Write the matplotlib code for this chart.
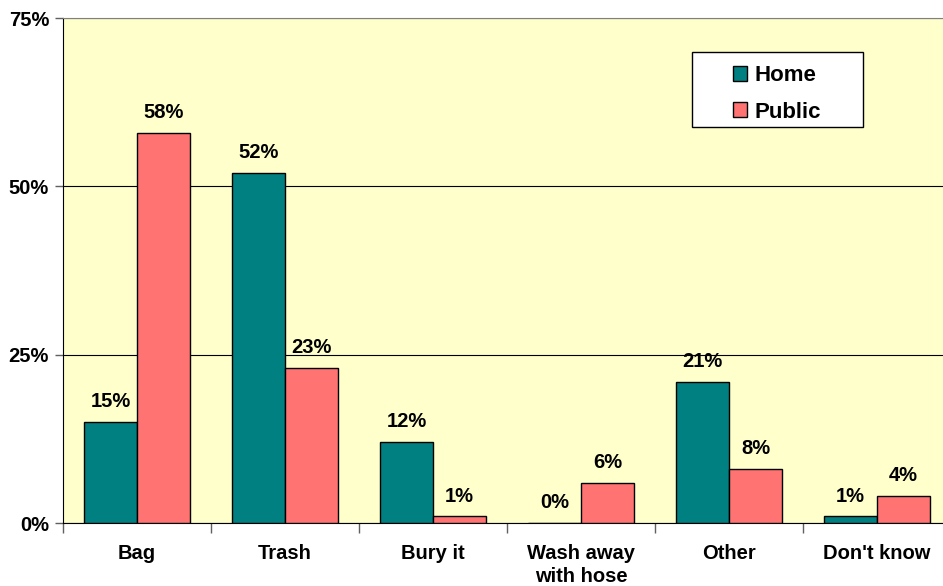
import matplotlib.pyplot as plt
from matplotlib.patches import Rectangle
import numpy as np

categories = ["Bag", "Trash", "Bury it", "Wash away\nwith hose", "Other", "Don't know"]
home = [15, 52, 12, 0, 21, 1]
public = [58, 23, 1, 6, 8, 4]
yticks = [0, 25, 50, 75]

plt.rcParams['font.family'] = ['Liberation Sans', 'DejaVu Sans']
plt.rcParams['font.weight'] = 'bold'

fig = plt.figure(figsize=(9.43, 5.86), dpi=100)
ax = fig.add_axes([0.0668, 0.1075, 0.9417, 0.8615])
ax.set_facecolor('#FFFFCC')

x = np.arange(len(categories))
w = 0.358
b1 = ax.bar(x - w/2, home, w, color='#008080', edgecolor='black', linewidth=1, label='Home', zorder=3)
b2 = ax.bar(x + w/2, public, w, color='#FF7373', edgecolor='black', linewidth=1, label='Public', zorder=3)

for bars, vals in ((b1, home), (b2, public)):
    for r, v in zip(bars, vals):
        ax.text(r.get_x() + r.get_width()/2, v + 1.6, f"{v}%", ha='center', va='bottom',
                fontsize=14.5, fontweight='bold')

ax.set_xlim(-0.5, len(categories) - 0.5)
ax.set_ylim(0, 75)
ax.set_yticks(yticks)
ax.set_yticklabels([f"{t}%" for t in yticks], fontsize=14.5, fontweight='bold')
ax.yaxis.grid(True, color='black', linewidth=0.8, zorder=0)
ax.set_axisbelow(True)

ax.set_xticks(x)
ax.set_xticklabels(categories, fontsize=14.5, fontweight='bold', linespacing=1.25)
ax.tick_params(axis='x', length=0, pad=15)
ax.set_xticks(np.arange(-0.5, len(categories), 1), minor=True)
ax.tick_params(axis='x', which='minor', length=7, width=1, color='#606060')
ax.tick_params(axis='y', length=6, width=1, color='#606060', pad=4)

ax.spines['right'].set_visible(False)
ax.spines['top'].set_color('#808080')
ax.spines['left'].set_color('black')
ax.spines['bottom'].set_color('black')

# legend box drawn separately (wide padding like the original)
fig.patches.append(Rectangle((692/943, 1 - 127/586), 171/943, 75/586, transform=fig.transFigure,
                             facecolor='white', edgecolor='black', linewidth=1, zorder=5))
leg = fig.legend(handles=[b1, b2], loc='upper left', bbox_to_anchor=(733/943, 1 - 65/586),
                 frameon=False, handlelength=0.65, handleheight=0.65, handletextpad=0.3,
                 borderpad=0, labelspacing=0.7, borderaxespad=0,
                 prop={'weight': 'bold', 'size': 16})
leg.set_zorder(6)

fig.savefig('out.png', dpi=100)
